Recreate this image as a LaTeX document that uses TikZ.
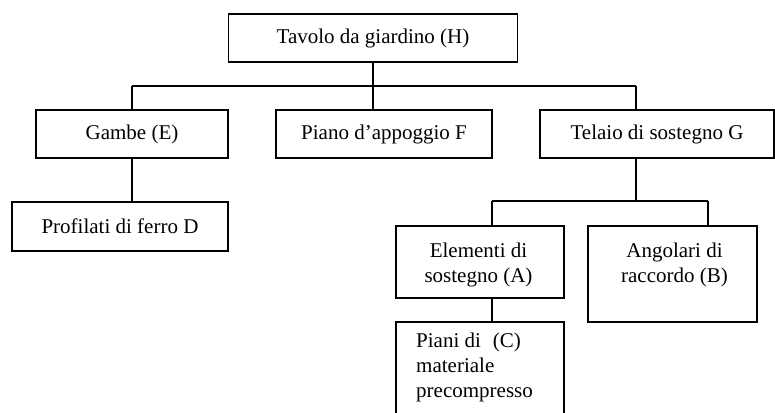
\documentclass[tikz,border=0pt]{standalone}
\usepackage{fontspec}
\setmainfont{Liberation Serif}
\usetikzlibrary{calc}
\begin{document}
\begin{tikzpicture}[x=1pt,y=-1pt,
  box/.style={draw, line width=1.2pt, inner sep=0pt, font=\fontsize{21}{25}\selectfont},
  conn/.style={line width=1.8pt},
  lbl/.style={font=\fontsize{21}{25}\selectfont, inner sep=0pt}]
\useasboundingbox (0,0) rectangle (775,412);
\clip (0,0) rectangle (775,412);
% boxes
\node[box, minimum width=289pt, minimum height=48pt] (H) at (373,38) {Tavolo da giardino (H)};
\node[box, minimum width=192pt, minimum height=48pt] (E) at (132,134) {Gambe (E)};
\node[box, minimum width=216pt, minimum height=49pt] (D) at (120,226.5) {Profilati di ferro D};
\node[box, minimum width=216pt, minimum height=48pt] (F) at (384,134) {Piano d’appoggio F};
\node[box, minimum width=234pt, minimum height=48pt] (G) at (657,134) {Telaio di sostegno G};
\node[box, minimum width=168pt, minimum height=72pt] (A) at (480,262) {};
\node[lbl, align=center] (At) at (478.5,264.5) {Elementi di\\sostegno (A)};
\node[box, minimum width=169pt, minimum height=96pt] (B) at (672.5,274) {};
\node[lbl, align=center] (Bt) at (674.5,264.5) {Angolari di\\raccordo (B)};
\node[box, minimum width=168pt, minimum height=110pt] (C) at (480,377) {};
\node[lbl, align=left, anchor=west] (Ct) at (416,367) {Piani di\hspace{12pt}(C)\\materiale\\precompresso};
% junction coordinates
\path (0,86) coordinate (bus1) (0,201) coordinate (bus2);
\coordinate (gx) at ($(G.south west)!0.41!(G.south east)$);
\coordinate (ax) at ($(A.north west)!0.571!(A.north east)$);
\coordinate (axb) at ($(A.south west)!0.571!(A.south east)$);
\coordinate (bx) at ($(B.north west)!0.71!(B.north east)$);
% connectors
\draw[conn] (H.south) -- (H.south |- bus1);
\draw[conn] (E.north |- bus1) -- (gx |- bus1);
\draw[conn] (E.north |- bus1) -- (E.north);
\draw[conn] (H.south |- bus1) -- (H.south |- F.north);
\draw[conn] (gx |- bus1) -- (gx |- G.north);
\draw[conn] (E.south) -- (E.south |- D.north);
\draw[conn] (gx) -- (gx |- bus2);
\draw[conn] (ax |- bus2) -- (bx |- bus2);
\draw[conn] (ax |- bus2) -- (ax);
\draw[conn] (bx |- bus2) -- (bx);
\draw[conn] (axb) -- (axb |- C.north);
\end{tikzpicture}
\end{document}
